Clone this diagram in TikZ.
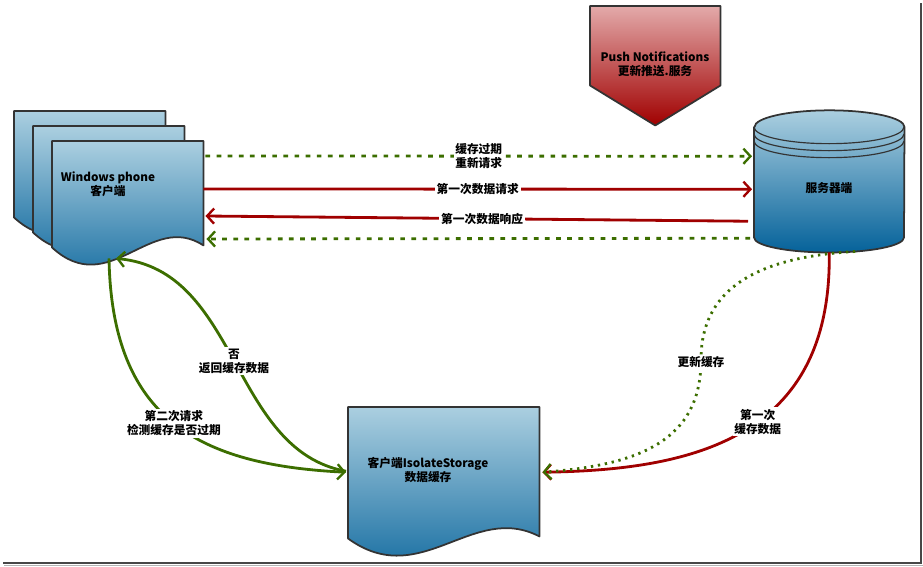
\documentclass[tikz,border=0pt]{standalone}
\usepackage{fontspec}
\setmainfont{Noto Sans CJK SC}
\usetikzlibrary{arrows.meta, calc}
\definecolor{c1}{HTML}{333333}
\definecolor{c2}{HTML}{3C6E00}
\definecolor{c3}{HTML}{A00000}
\definecolor{bluetop}{HTML}{ABCFE0}
\definecolor{bluebot}{HTML}{05629A}
\definecolor{redtop}{HTML}{E3AAAA}
\definecolor{redbot}{HTML}{A00000}
\definecolor{shadowcolor}{HTML}{B4B4B4}

% document outline with a wavy bottom, from the anchors of a box node
\newcommand\docpath[1]{(#1.north west) -- (#1.north east) -- ($(#1.south east)+(0,-17)$)
  .. controls ($(#1.south west)!0.65!(#1.south east)+(0,-52)$) and ($(#1.south west)!0.38!(#1.south east)+(0,38)$)
  .. ($(#1.south west)+(0,-15)$) -- cycle}
% arrow-shaped box pointing down
\newcommand\pushpath[1]{(#1.north west) -- (#1.north east) -- ($(#1.south east)+(0,-40)$)
  -- (#1.south) -- ($(#1.south west)+(0,-40)$) -- cycle}
% cylinder body
\newcommand\cylpath[1]{($(#1.north west)+(0,17)$) -- ($(#1.south west)+(0,-15)$)
  arc[start angle=180, end angle=360, x radius=2.25cm, y radius=0.45cm]
  -- ($(#1.north east)+(0,17)$)
  arc[start angle=0, end angle=180, x radius=2.25cm, y radius=0.5cm] -- cycle}

\begin{document}
\begin{tikzpicture}[
    x=0.03cm, y=-0.03cm,
    every node/.style={font=\bfseries\fontsize{10}{12}\selectfont},
    box/.style={rectangle, inner sep=0pt, anchor=north west},
    txt/.style={align=center, inner sep=1pt, text=black},
    lbl/.style={align=center, fill=white, inner sep=1.5pt, text=black},
    shade/.style={fill=shadowcolor},
    bluebody/.style={top color=bluetop, bottom color=bluebot, draw=c1, line width=1.5pt, line join=round},
    redbody/.style={top color=redtop, bottom color=redbot, draw=c1, line width=1.5pt, line join=round},
    redline/.style={-{Straight Barb[length=6pt, width=13pt, line width=2pt]}, line width=2.4pt, color=c3},
    greenline/.style={-{Straight Barb[length=6pt, width=13pt, line width=2pt]}, line width=2.4pt, color=c2},
    greendash/.style={greenline, dash pattern=on 4pt off 5.5pt},
    greendot/.style={greenline, dash pattern=on 2pt off 4pt},
]
\useasboundingbox (0,0) rectangle (923,567);

% ---------------------------------------------------------------- frame
\draw[line width=1.6pt, color=c1!90] (3,563) -- (921,563) -- (921,3);
\draw[line width=0.8pt, color=shadowcolor] (4,565.5) -- (923,565.5);

% ---------------------------------------------------------------- nodes
\node[box, minimum width=4.53cm, minimum height=3.63cm] (c3) at (14,111) {};
\node[box, minimum width=4.53cm, minimum height=3.63cm] (c2) at (33,126) {};
\node[box, minimum width=4.53cm, minimum height=3.63cm] (client) at (52,141) {};
\node[box, minimum width=3.9cm, minimum height=3.57cm] (push) at (590,6) {};
\node[box, minimum width=4.5cm, minimum height=4.26cm] (server) at (754,110) {};
\node[box, minimum width=5.73cm, minimum height=4.38cm] (store) at (348,407) {};

\foreach \d in {c3, c2, client, store}{
  \fill[shade, shift={(4,4)}] \docpath{\d};
  \path[bluebody] \docpath{\d};
}
\fill[shade, shift={(5,5)}] \pushpath{push};
\path[redbody] \pushpath{push};
\fill[shade, shift={(5,5)}] \cylpath{server};
\path[bluebody] \cylpath{server};
\foreach \k in {17, 24, 31}{
  \draw[c1, line width=1pt] ($(server.north west)+(0,\k)$)
    arc[start angle=180, end angle=360, x radius=2.25cm, y radius=0.5cm];
}

\node[txt] (client-t) at (108,184) {Windows phone\\客户端};
\node[txt] (push-t) at (655,64) {Push Notifications\\更新推送.服务};
\node[txt] (server-t) at (829,188) {服务器端};
\node[txt] (store-t) at (428,470) {客户端IsolateStorage\\数据缓存};

% ---------------------------------------------------------------- between client and server
\draw[greendash] ($(client.north east)+(2,15)$) -- node[lbl] (l-expire) {缓存过期\\重新请求} ($(server.west)+(-2,-25)$);
\draw[redline] ($(client.north east)+(0,48)$) -- node[lbl] (l-req) {第一次数据请求} ($(server.west)+(-2,8)$);
\draw[redline] ($(server.west)+(-6,40)$) -- node[lbl, pos=0.49] (l-resp) {第一次数据响应} ($(client.north east)+(2,75)$);
\draw[greendash] ($(server.west)+(-4,57)$) -- ($(client.north east)+(3,98)$);

% ---------------------------------------------------------------- the local store
\draw[greenline] ($(client.south west)+(57,-4)$) .. controls (112,420) and (200,465)
  .. node[lbl, pos=0.5] (l-second) {第二次请求\\检测缓存是否过期} ($(store.west)+(-2,-8)$);
\draw[greenline] ($(store.west)+(-2,-9)$) .. controls (230,450) and (240,270)
  .. node[lbl, pos=0.5] (l-no) {否\\返回缓存数据} ($(client.south west)+(64,-4)$);

\draw[redline] (server.south) .. controls (832,440) and (690,470)
  .. node[lbl, pos=0.45] (l-first) {第一次\\缓存数据} ($(store.east)+(3,-8)$);
\draw[greendot] ($(server.south)+(26,-1)$) .. controls (740,258) and (700,300)
  .. (701,362) node[lbl] (l-update) {更新缓存} .. controls (700,440) and (640,465) .. ($(store.east)+(3,-8)$);
\end{tikzpicture}
\end{document}
